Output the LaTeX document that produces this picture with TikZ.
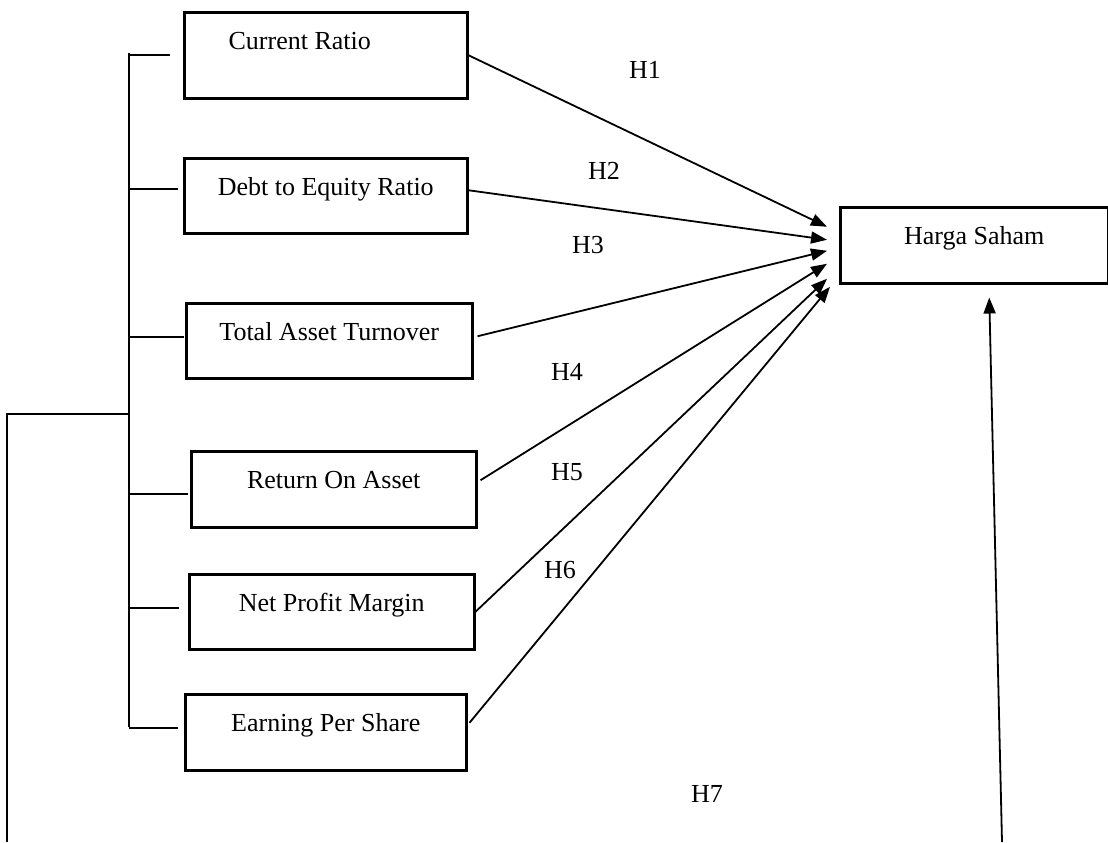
\documentclass[tikz,border=0pt]{standalone}
\usepackage{fontspec}
\setmainfont{Liberation Serif}
\usepackage{tikz}
\usetikzlibrary{arrows.meta}
\tikzstyle{var} = [draw, line width=1.25pt, inner sep=0pt, anchor=north west, text height=18.5pt, text depth=19pt]
\tikzstyle{hyp} = [line width=0.9pt, -{Triangle[length=8pt,width=6pt]}]
\tikzstyle{conn} = [line width=0.9pt]
\tikzstyle{hlabel} = [inner sep=0pt]

\begin{document}
\begin{tikzpicture}[x=0.5pt,y=-0.5pt,font=\fontsize{13}{15}\selectfont]
				\useasboundingbox (0,0) rectangle (1108,842);
				\node[var, minimum width=141.5pt, text depth=24.5pt] (cr) at (183,11) {Current Ratio\kern26pt};
				\node[var, minimum width=141.5pt] (de) at (183,157) {Debt to Equity Ratio};
				\node[var, minimum width=143pt] (ta) at (185,302) {Total Asset Turnover};
				\node[var, minimum width=142.5pt, text depth=19.5pt] (ro) at (190,450) {Return On Asset};
				\node[var, minimum width=142.5pt] (np) at (188,573) {Net Profit Margin};
				\node[var, minimum width=140.5pt, text depth=19.5pt] (ep) at (184,693) {Earning Per Share};
				\node[var, minimum width=134pt, text depth=19.5pt] (hs) at (839,206) {Harga Saham};
				\node[hlabel] (h1) at (645,70) {H1};
				\node[hlabel] (h2) at (604,171) {H2};
				\node[hlabel] (h3) at (588,245.5) {H3};
				\node[hlabel] (h4) at (567,372) {H4};
				\node[hlabel] (h5) at (567,472) {H5};
				\node[hlabel] (h6) at (560,570) {H6};
				\node[hlabel] (h7) at (707,794) {H7};
				\coordinate (sp) at (129,53);
				\coordinate (sb) at (129,727);
				\coordinate (sm) at (129,414);
				\coordinate (lb) at (7,842);
				\coordinate (rb) at (1002,842);
				\draw[conn] (sp) -- (sb);
				\draw[conn] (lb) |- (sm);
				\draw[conn] ([xshift=-6.5pt]cr.west) -- (cr.west -| sp);
				\draw[conn] ([shift={(-2.5pt,3.25pt)}]de.west) -- ([yshift=3.25pt]de.west -| sp);
				\draw[conn] ([shift={(-0.5pt,1.75pt)}]ta.west) -- ([yshift=1.75pt]ta.west -| sp);
				\draw[conn] ([shift={(-1pt,-2.5pt)}]ro.west) -- ([yshift=-2.5pt]ro.west -| sp);
				\draw[conn] ([shift={(-4.5pt,1.75pt)}]np.west) -- ([yshift=1.75pt]np.west -| sp);
				\draw[conn] ([shift={(-3pt,2pt)}]ep.west) -- ([yshift=2pt]ep.west -| sp);
				\draw[hyp] (cr.east) -- ([shift={(-6pt,9.25pt)}]hs.west);
				\draw[hyp] ([yshift=2.75pt]de.east) -- ([shift={(-6pt,2.75pt)}]hs.west);
				\draw[hyp] ([shift={(2pt,2.25pt)}]ta.east) -- ([shift={(-6pt,-2.75pt)}]hs.west);
				\draw[hyp] ([shift={(1.5pt,4.5pt)}]ro.east) -- ([shift={(-6pt,-9.25pt)}]hs.west);
				\draw[hyp] (np.east) -- ([shift={(-6pt,-16.75pt)}]hs.west);
				\draw[hyp] ([shift={(1pt,4.75pt)}]ep.east) -- ([shift={(-4.5pt,-20.75pt)}]hs.west);
				\draw[hyp] (rb) -- ([shift={(7.5pt,-6.5pt)}]hs.south);
			\end{tikzpicture}
\end{document}
